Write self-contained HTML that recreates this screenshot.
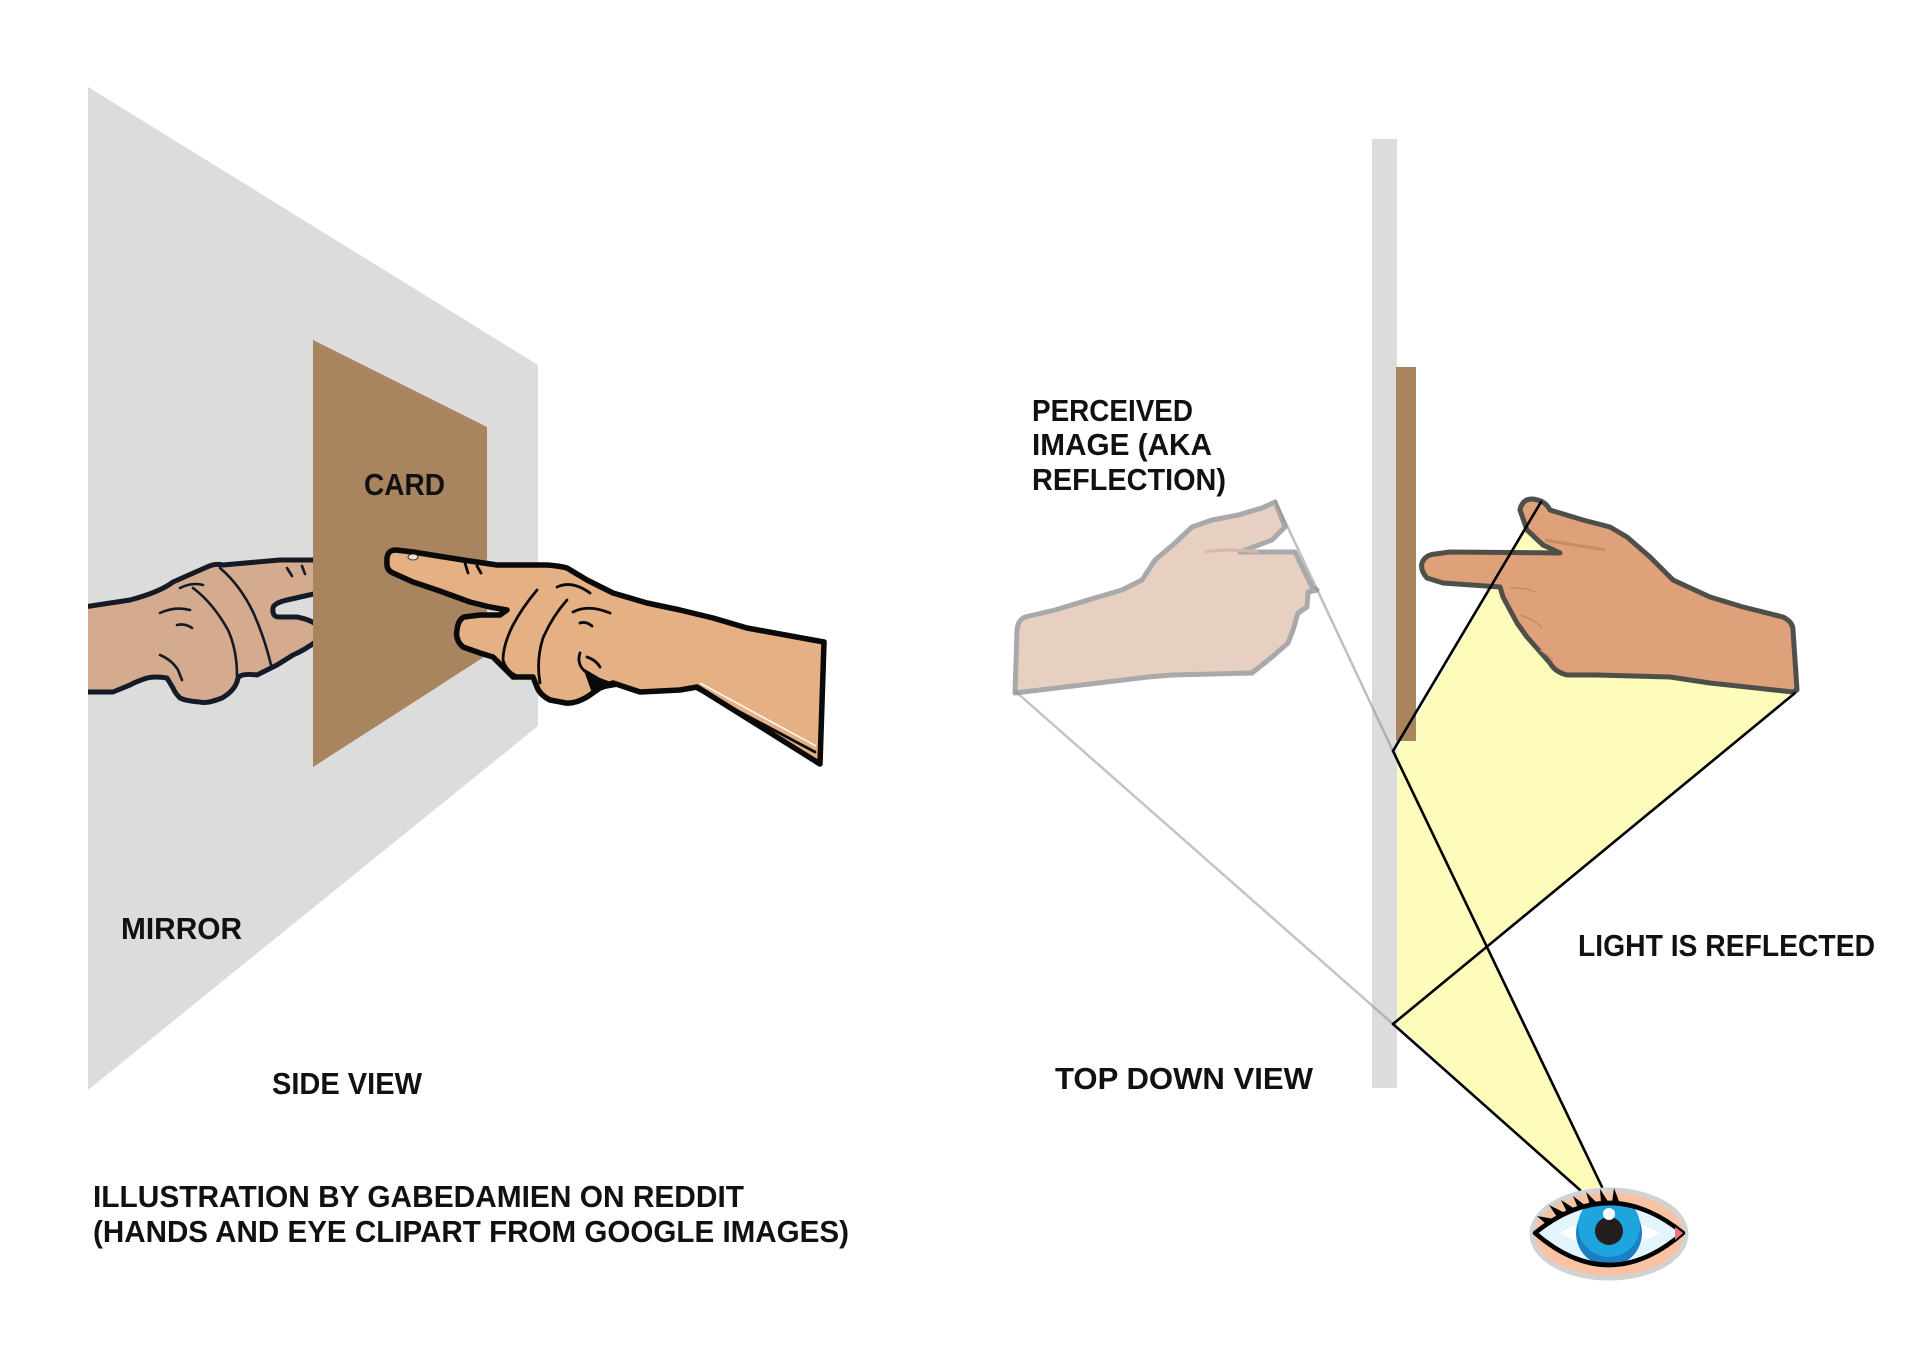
<!DOCTYPE html>
<html>
<head>
<meta charset="utf-8">
<style>
  html, body { margin:0; padding:0; background:#ffffff; }
  body { width:1920px; height:1360px; overflow:hidden; }
  svg { display:block; }
  .t { font-family:"Liberation Sans", "DejaVu Sans", sans-serif; font-weight:bold; font-size:31px; fill:#111; }
</style>
</head>
<body>
<svg width="1920" height="1360" viewBox="0 0 1920 1360" xmlns="http://www.w3.org/2000/svg">
  <defs>
    <clipPath id="mirrorClip"><rect x="88" y="0" width="2000" height="1360"/></clipPath>
    <clipPath id="eyeClip"><path d="M1535,1233 Q1609,1173 1683,1233 Q1609,1297 1535,1233 Z"/></clipPath>
  </defs>

  <!-- ================= SIDE VIEW ================= -->
  <polygon points="88,87 538,365 538,726 88,1090" fill="#dcdcdc"/>

  <g clip-path="url(#mirrorClip)">
    <path d="M84,607 L130,600 Q160,592 173,582 L207,567 Q215,563 223,565 L280,560 L318,560 L318,593 L287,600 Q274,603 273,608 Q272,617 279,617 L297,617 Q312,620 318,626 L318,640 Q305,650 293,655 L277,665 L257,675 Q241,673 238,678 Q236,690 222,698 Q207,704 200,702 Q186,701 180,698 Q175,693 173,688 L167,678 Q155,676 147,678 Q135,682 130,685 L113,692 L84,692 Z"
      fill="#d4ab8f" stroke="#141a26" stroke-width="5" stroke-linejoin="round"/>
    <g fill="none" stroke="#141a26" stroke-width="2.6" stroke-linecap="round">
      <path d="M220,568 Q240,585 253,612 Q264,636 271,665"/>
      <path d="M193,588 Q213,603 228,630 Q237,650 237,676"/>
      <path d="M180,588 Q192,582 203,585"/>
      <path d="M160,613 Q175,606 190,610"/>
      <path d="M177,625 Q185,623 192,628"/>
      <path d="M160,655 Q172,660 178,670 L182,680"/>
      <path d="M287,568 L292,576"/>
      <path d="M302,566 L305,574"/>
    </g>
  </g>

  <polygon points="313,340 487,427 487,655 313,767" fill="#a8845f"/>

  <path d="M387,562 Q386,550 396,550 L413,552 L463,560 L497,565 L547,565 Q560,566 567,568 L587,580 L613,593 L647,603 L680,610 L713,618 L747,628 L824,642 L820,764 L697,687 L680,690 L640,692 L613,683 L600,688 L587,697 Q575,704 566,703 L550,700 Q540,695 537,687 L533,677 L513,677 L503,667 L493,657 L480,653 L463,647 Q455,640 457,630 Q458,620 464,617 L480,615 L500,615 L507,610 L490,607 L470,602 L437,590 L413,582 L393,573 Q386,570 387,562 Z"
    fill="#e6b085" stroke="#0a0a0a" stroke-width="5.5" stroke-linejoin="round"/>
  <g fill="none" stroke="#0a0a0a" stroke-width="2.8" stroke-linecap="round">
    <path d="M537,590 Q522,608 513,625 Q503,645 503,660 Q507,673 520,677"/>
    <path d="M567,600 Q552,617 543,638 Q536,660 540,683"/>
    <path d="M557,587 Q572,580 590,593"/>
    <path d="M573,612 Q588,604 610,613"/>
    <path d="M580,623 Q586,621 592,626"/>
    <path d="M580,653 Q576,665 587,673 L597,680"/>
    <path d="M587,657 Q596,660 600,667"/>
    <path d="M465,563 L468,573"/>
    <path d="M477,566 L481,573"/>
    <path d="M693,687 L815,752"/>
  </g>
  <path d="M583,668 L600,678 L622,686 L605,689 L592,693 Z" fill="#0a0a0a"/>
  <path d="M700,683 L816,746" stroke="#ffffff" stroke-width="1.5" fill="none"/>
  <ellipse cx="413" cy="557" rx="5" ry="3" fill="#f3e0d2" stroke="#333" stroke-width="1"/>

  <text class="t" x="364" y="495" textLength="81" lengthAdjust="spacingAndGlyphs">CARD</text>
  <text class="t" x="121" y="939" textLength="121" lengthAdjust="spacingAndGlyphs">MIRROR</text>
  <text class="t" x="272" y="1094" textLength="150" lengthAdjust="spacingAndGlyphs">SIDE VIEW</text>

  <text class="t" x="93" y="1207" textLength="651" lengthAdjust="spacingAndGlyphs">ILLUSTRATION BY GABEDAMIEN ON REDDIT</text>
  <text class="t" x="93" y="1242" textLength="756" lengthAdjust="spacingAndGlyphs">(HANDS AND EYE CLIPART FROM GOOGLE IMAGES)</text>

  <!-- ================= TOP DOWN VIEW ================= -->
  <polygon points="1541,502 1600,600 1700,650 1795,693 1487,948 1602,1187 1580,1190 1397,1024 1397,751" fill="#fdfcbb"/>

  <rect x="1372" y="139" width="25" height="949" fill="#dcdcdc"/>
  <rect x="1396" y="367" width="20" height="374" fill="#a8845f"/>

  <path d="M1015,693 L1017,630 Q1018,620 1025,617 L1055,610 L1088,600 L1122,590 L1142,580 L1155,560 L1175,543 L1192,527 L1212,520 L1238,515 L1262,508 L1275,502 L1285,527 L1272,540 L1240,552 L1295,552 L1312,587 L1317,590 L1308,592 L1307,607 L1298,613 L1293,630 L1288,643 L1272,657 L1252,673 L1172,675 L1148,677 Z"
    fill="#e7d0c1" stroke="#a9a9a9" stroke-width="5" stroke-linejoin="round"/>
  <path d="M1205,552 Q1230,548 1258,552" stroke="#d6b8a6" stroke-width="3" fill="none"/>

  <line x1="1275" y1="500" x2="1393" y2="751" stroke="#8a8a8a" stroke-opacity="0.55" stroke-width="2.5"/>
  <line x1="1015" y1="691" x2="1393" y2="1024" stroke="#8a8a8a" stroke-opacity="0.5" stroke-width="2.5"/>

  <path d="M1520,510 Q1522,499 1532,499 Q1545,500 1550,510 L1583,520 L1610,527 L1627,537 L1650,557 L1673,580 L1710,597 L1743,607 L1783,617 Q1793,622 1793,630 L1797,690 L1793,692 L1710,683 L1670,677 L1597,675 L1567,675 Q1555,672 1550,663 L1527,637 L1517,623 L1510,610 L1503,597 L1500,587 L1443,583 L1427,578 Q1420,570 1422,563 Q1425,555 1435,554 L1450,552 L1560,553 L1543,545 L1527,530 Z"
    fill="#dea17a" stroke="#4f4f4a" stroke-width="5" stroke-linejoin="round"/>
  <g fill="none" stroke="#c98a66" stroke-width="1.5">
    <path d="M1510,588 Q1525,587 1535,592"/>
    <path d="M1520,615 Q1535,620 1542,628"/>
    <path d="M1540,650 Q1548,655 1553,660"/>
  </g>
  <path d="M1545,540 Q1575,545 1605,550" stroke="#c98a66" stroke-width="3" fill="none"/>

  <g stroke="#000" stroke-width="2.6" stroke-linecap="round" fill="none">
    <line x1="1541" y1="502" x2="1393" y2="751"/>
    <line x1="1393" y1="751" x2="1602" y2="1187"/>
    <line x1="1795" y1="693" x2="1393" y2="1024"/>
    <line x1="1393" y1="1024" x2="1580" y2="1190"/>
  </g>

  <!-- Eye -->
  <ellipse cx="1609" cy="1234" rx="77" ry="44" fill="#f8c2a3" stroke="#d2d2d2" stroke-width="5"/>
  <path d="M1535,1233 Q1609,1173 1683,1233 Q1609,1297 1535,1233 Z" fill="#e4f4fc"/>
  <g clip-path="url(#eyeClip)">
    <path d="M1560,1233 Q1609,1205 1660,1233 Q1609,1262 1560,1233 Z" fill="#ffffff"/>
    <circle cx="1609" cy="1233" r="33" fill="#1b7fc6"/>
    <circle cx="1609" cy="1226" r="31" fill="#1ea5e0"/>
    <circle cx="1609" cy="1231" r="14" fill="#231f20"/>
    <circle cx="1609" cy="1214" r="6" fill="#ffffff"/>
  </g>
  <path d="M1535,1233 Q1609,1173 1683,1233 Q1609,1297 1535,1233 Z" fill="none" stroke="#000" stroke-width="4.5" stroke-linejoin="round"/>
  <polygon points="1675,1227 1683,1233 1675,1240" fill="#f07484"/>
  <g fill="#000">
    <polygon points="1546,1224 1554,1219 1537,1216"/>
    <polygon points="1557,1217 1565,1213 1549,1205"/>
    <polygon points="1567,1212 1575,1209 1561,1200"/>
    <polygon points="1578,1208 1586,1206 1573,1196"/>
    <polygon points="1590,1205 1598,1204 1586,1192"/>
    <polygon points="1601,1203 1609,1203 1600,1189"/>
    <polygon points="1612,1203 1620,1204 1614,1188"/>
  </g>

  <text class="t" x="1032" y="421" textLength="161" lengthAdjust="spacingAndGlyphs">PERCEIVED</text>
  <text class="t" x="1032" y="455" textLength="180" lengthAdjust="spacingAndGlyphs">IMAGE (AKA</text>
  <text class="t" x="1032" y="490" textLength="194" lengthAdjust="spacingAndGlyphs">REFLECTION)</text>
  <text class="t" x="1055" y="1089" textLength="258" lengthAdjust="spacingAndGlyphs">TOP DOWN VIEW</text>
  <text class="t" x="1578" y="956" textLength="297" lengthAdjust="spacingAndGlyphs">LIGHT IS REFLECTED</text>
</svg>
</body>
</html>
